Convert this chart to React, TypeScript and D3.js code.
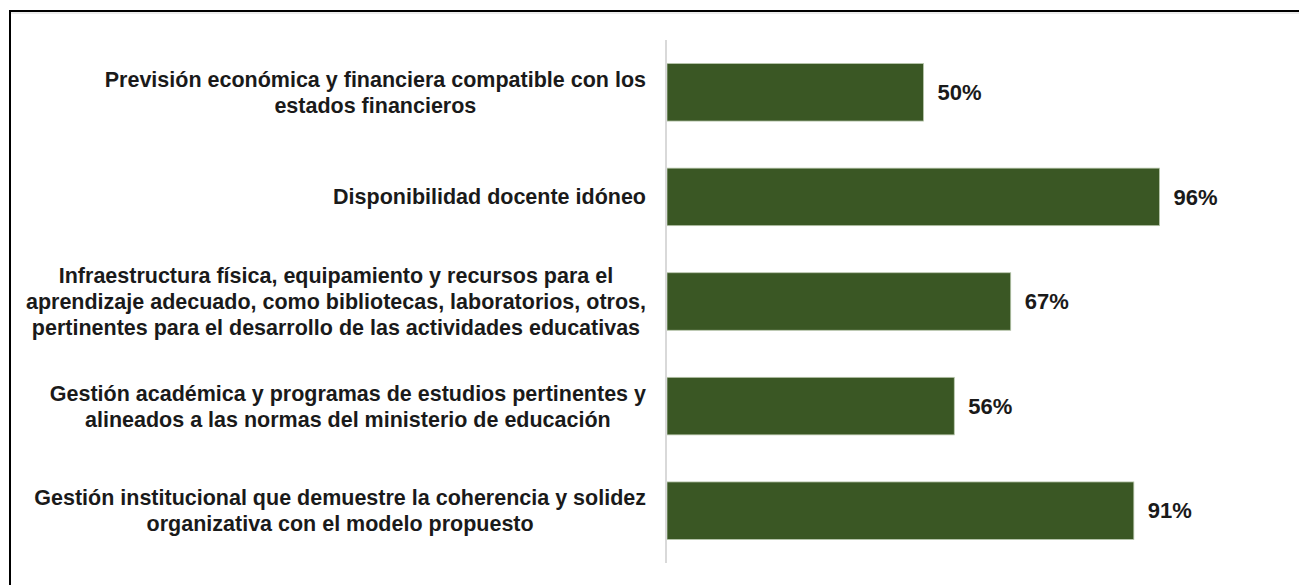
import React, { useEffect, useRef } from "react";
import * as d3 from "d3";

const categories: string[][] = [
  ["Previsión económica y financiera compatible con los", "estados financieros"],
  ["Disponibilidad docente idóneo"],
  [
    "Infraestructura física, equipamiento y recursos para el",
    "aprendizaje adecuado, como bibliotecas, laboratorios, otros,",
    "pertinentes para el desarrollo de las actividades educativas",
  ],
  ["Gestión académica y programas de estudios pertinentes y", "alineados a las normas del ministerio de educación"],
  ["Gestión institucional que demuestre la coherencia y solidez", "organizativa con el modelo propuesto"],
];
const values: number[] = [0.5, 0.96, 0.67, 0.56, 0.91];
const valueLabels: string[] = ["50%", "96%", "67%", "56%", "91%"];

const W = 1299;
const H = 585;
const FONT = "'Liberation Sans', Arial, sans-serif";
const FS = 21.5;
const FS_VAL = 22;

export default function App() {
  const ref = useRef<SVGSVGElement>(null);

  useEffect(() => {
    const svg = d3.select(ref.current);
    svg.selectAll("*").remove();

    const x0 = 667;
    const x = d3.scaleLinear().domain([0, 1]).range([x0, x0 + 513]);
    const y = d3
      .scaleBand<number>()
      .domain(d3.range(categories.length))
      .range([40, 563])
      .paddingInner(0.45)
      .paddingOuter(0.225);

    svg.append("rect").attr("width", W).attr("height", H).attr("fill", "#fff");

    // outer frame (only top/left visible)
    svg
      .append("rect")
      .attr("x", 10)
      .attr("y", 11)
      .attr("width", W + 20)
      .attr("height", H + 20)
      .attr("fill", "none")
      .attr("stroke", "#000")
      .attr("stroke-width", 2);
    svg
      .append("line")
      .attr("x1", 11)
      .attr("x2", W)
      .attr("y1", 13)
      .attr("y2", 13)
      .attr("stroke", "#e6e6e6")
      .attr("stroke-width", 1.5);

    // bars
    svg
      .append("g")
      .selectAll("rect")
      .data(values)
      .join("rect")
      .attr("x", x(0))
      .attr("y", (_, i) => y(i)!)
      .attr("width", (d) => x(d) - x(0))
      .attr("height", y.bandwidth())
      .attr("fill", "#3a5724")
      .attr("stroke", "#b9c7ad")
      .attr("stroke-width", 0.8);

    // axis line
    svg
      .append("line")
      .attr("x1", x(0) - 1)
      .attr("x2", x(0) - 1)
      .attr("y1", y.range()[0])
      .attr("y2", y.range()[1])
      .attr("stroke", "#d9d9d9")
      .attr("stroke-width", 2);

    // value labels
    svg
      .append("g")
      .selectAll("text")
      .data(values)
      .join("text")
      .attr("x", (d) => x(d) + 14)
      .attr("y", (_, i) => y(i)! + y.bandwidth() / 2)
      .attr("dy", "0.35em")
      .attr("font-family", FONT)
      .attr("font-weight", "bold")
      .attr("font-size", FS_VAL)
      .attr("fill", "#1a1a1a")
      .text((_, i) => valueLabels[i]);

    // category labels
    const lh = 26;
    const rightEdge = 646;
    categories.forEach((lines, i) => {
      const cy = y(i)! + y.bandwidth() / 2;
      const g = svg.append("g");
      const texts = lines.map((ln, j) =>
        g
          .append("text")
          .attr("y", cy + (j - (lines.length - 1) / 2) * lh)
          .attr("dy", "0.35em")
          .attr("text-anchor", "middle")
          .attr("font-family", FONT)
          .attr("font-weight", "bold")
          .attr("font-size", FS)
          .attr("fill", "#1a1a1a")
          .text(ln)
      );
      const maxW = d3.max(texts, (t) => (t.node() as SVGTextElement).getComputedTextLength()) || 0;
      texts.forEach((t) => t.attr("x", rightEdge - maxW / 2));
    });
  }, []);

  return (
    <svg
      ref={ref}
      width={W}
      height={H}
      style={{ position: "absolute", left: 0, top: 0, display: "block" }}
    />
  );
}
